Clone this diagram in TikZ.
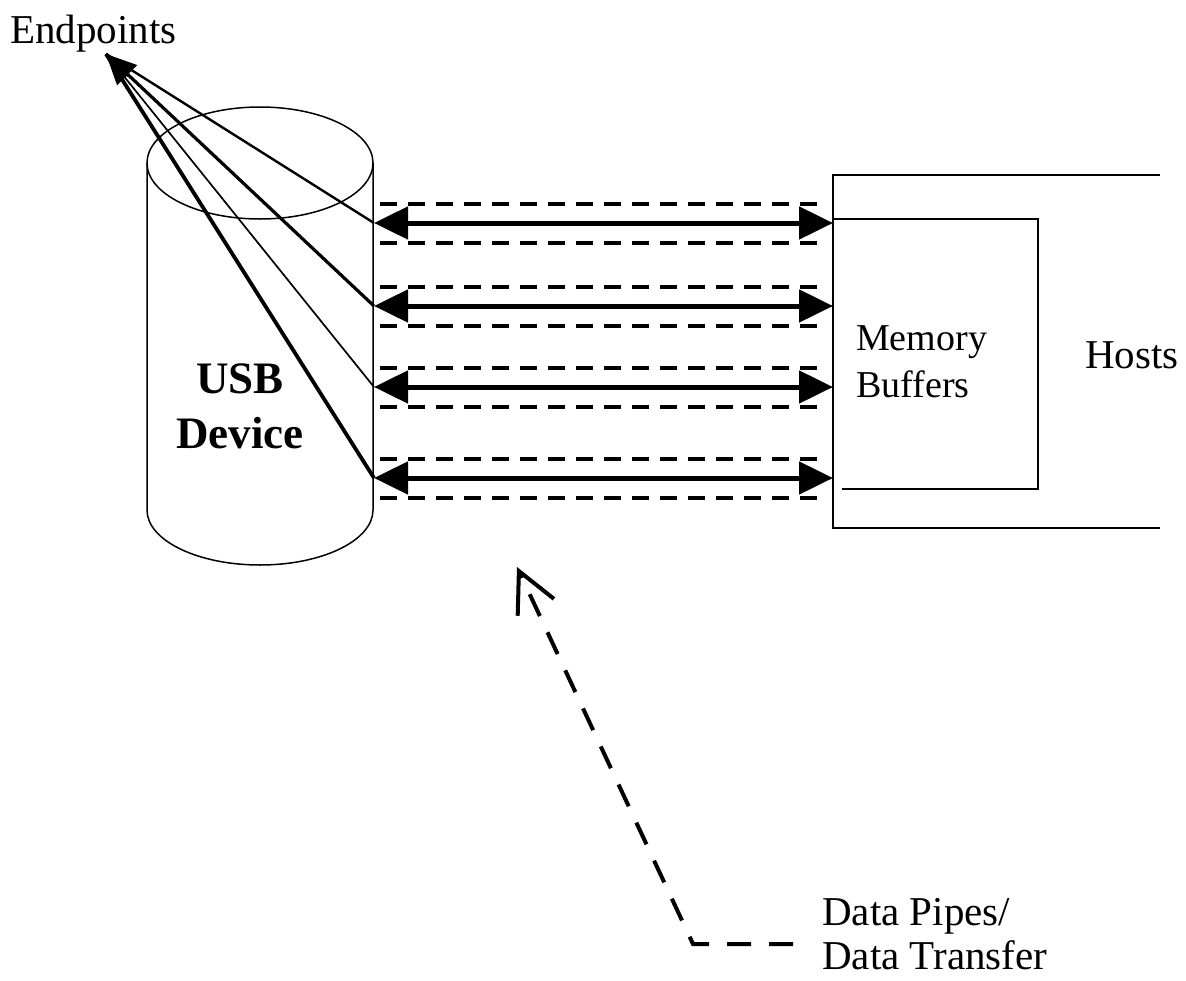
\documentclass[tikz,border=0pt]{standalone}
\usepackage{fontspec}
\setmainfont{Liberation Serif}
\usetikzlibrary{arrows.meta,calc}

\begin{document}
\begin{tikzpicture}[x=1pt,y=-1pt,
  outline/.style={line width=1.5pt},
  frame/.style={line width=2.6pt},
  pipewall/.style={line width=3.2pt, dash pattern=on 17pt off 11pt},
  pipe/.style={line width=5pt,
    {Triangle[length=34pt,width=32pt]}-{Triangle[length=34pt,width=32pt]}},
  feed/.style={line width=#1},
  flow/.style={line width=4pt, line join=miter, dash pattern=on 24pt off 18pt,
    -{Straight Barb[length=40pt,width=40pt]}},
  lbl/.style={inner sep=0pt, font=\fontsize{41}{45}\selectfont},
]
\useasboundingbox (0,0) rectangle (1186,980);

% USB device drawn as a cylinder
\draw[outline] (260,163) ellipse [x radius=113pt, y radius=56pt];
\draw[outline] (147,163) -- (147,510)
  arc[start angle=180, end angle=360, x radius=113pt, y radius=55pt] -- (373,163);
\node[inner sep=0pt, align=center, anchor=base,
      font=\bfseries\fontsize{45}{55}\selectfont] (usb) at (240,448) {USB\\Device};

% host frame with its memory buffer block
\draw[frame] (1160,175) -- (833,175) -- (833,528) -- (1160,528);
\draw[outline] (833,219) -- (1038,219) -- (1038,489) -- (842,489);
\node[inner sep=0pt, align=left, anchor=base west,
      font=\fontsize{38}{47}\selectfont] (membuf) at (856,397) {Memory\\Buffers};
\node[lbl, anchor=base west] (hosts) at (1085,368) {Hosts};

% the four pipes between device and host
\foreach \i/\y in {1/223,2/306,3/387,4/478} {
  \coordinate (L\i) at (374,\y);
  \coordinate (R\i) at (833,\y);
  \draw[pipewall] ($(L\i)+(6,-19)$) -- ($(R\i)+(-10,-19)$);
  \draw[pipewall] ($(L\i)+(6,20)$) -- ($(R\i)+(-10,20)$);
  \draw[pipe] (L\i) -- (R\i);
}

% endpoint callout
\node[lbl, anchor=base west] (endpoints) at (10,43) {Endpoints};
\coordinate (ep) at (106,54);
\coordinate (epb) at (128,76);
\foreach \i/\w in {1/2.4pt,2/3.2pt,3/1.7pt,4/3.8pt}
  \draw[feed=\w] (ep) -- (L\i);
\draw[line width=2.5pt, -{Triangle[length=30pt,width=28pt]}] (epb) -- (ep);

% data pipe callout
\node[inner sep=0pt, font=\fontsize{41}{44}\selectfont, align=left, anchor=base west]
  (pipes) at (822,969) {Data Pipes/\\Data Transfer};
\coordinate (dt) at (793,944);
\coordinate (dc) at (693,944);
\coordinate (dh) at (517,567);
\draw[flow] (dt) -- (dc) -- (dh);
\end{tikzpicture}
\end{document}
